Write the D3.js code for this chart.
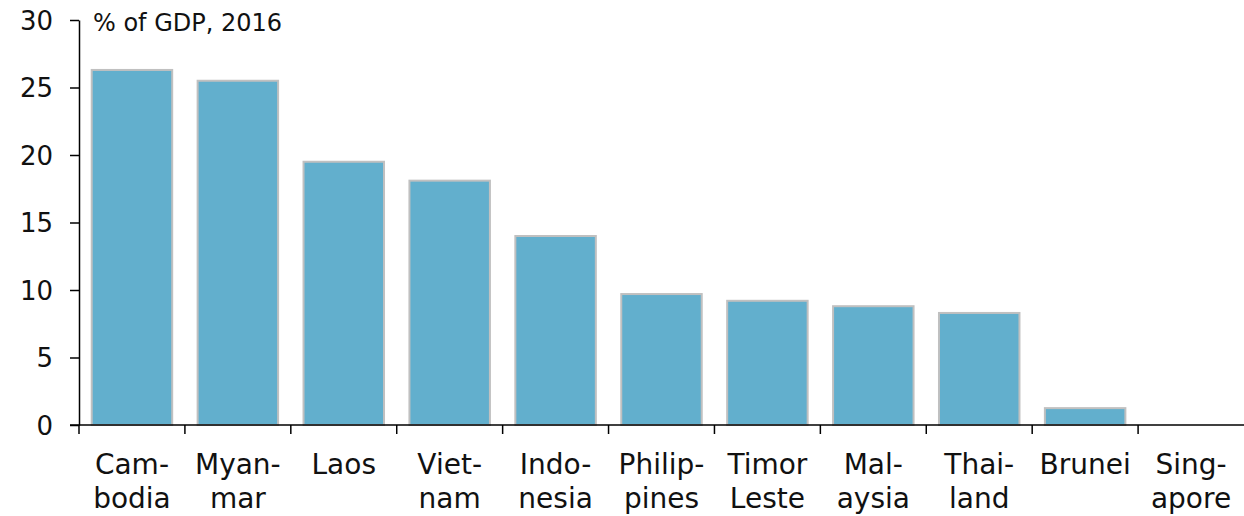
<!DOCTYPE html>
<html>
<head>
<meta charset="utf-8">
<style>
  body { margin: 0; background: #fff; font-family: "DejaVu Sans", sans-serif; }
  svg { display: block; }
  .axis path, .axis line { stroke: #000; stroke-width: 1.5; }
  .axis text { fill: #111; font-family: "DejaVu Sans", sans-serif; }
  .bar { fill: #62afcd; stroke: #c0c0c0; stroke-width: 2; }
</style>
</head>
<body>
<script src="https://d3js.org/d3.v7.min.js"></script>
<script>
// data
var countries = ["Cambodia", "Myanmar", "Laos", "Vietnam", "Indonesia", "Philippines",
                 "Timor Leste", "Malaysia", "Thailand", "Brunei", "Singapore"];
var labelLines = [["Cam-", "bodia"], ["Myan-", "mar"], ["Laos"], ["Viet-", "nam"], ["Indo-", "nesia"],
                  ["Philip-", "pines"], ["Timor", "Leste"], ["Mal-", "aysia"], ["Thai-", "land"],
                  ["Brunei"], ["Sing-", "apore"]];
var values = [26.3, 25.5, 19.5, 18.1, 14.0, 9.7, 9.2, 8.8, 8.3, 1.25, 0];
var yTicks = [0, 5, 10, 15, 20, 25, 30];
var unitLabel = "% of GDP, 2016";

var W = 1244, H = 516;
var margin = {top: 20, right: 0, bottom: 91, left: 79};
var width = W - margin.left - margin.right,
    height = H - margin.top - margin.bottom;

var svg = d3.select("body").append("svg")
    .attr("width", W)
    .attr("height", H);

var g = svg.append("g")
    .attr("transform", "translate(" + margin.left + "," + margin.top + ")");

var x = d3.scaleBand()
    .domain(countries)
    .range([0, width])
    .paddingInner(0.24)
    .paddingOuter(0.12);

var y = d3.scaleLinear()
    .domain([0, 30])
    .range([height, 0]);

// bars
g.selectAll("rect")
    .data(values)
    .enter().append("rect")
    .attr("class", "bar")
    .attr("x", function(d, i) { return x(countries[i]); })
    .attr("y", function(d) { return y(d); })
    .attr("width", x.bandwidth())
    .attr("height", function(d) { return height - y(d); })
    .style("display", function(d) { return d > 0 ? null : "none"; });

// y axis
var yAxis = g.append("g")
    .attr("class", "axis")
    .call(d3.axisLeft(y).tickValues(yTicks).tickSize(9).tickSizeOuter(0).tickPadding(17));
yAxis.selectAll("text").attr("dy", "0.36em").style("font-size", "26px");

// x axis: ticks at band boundaries
var step = x.step();
var bounds = countries.map(function(c, i) { return i * step; });
var xAxisG = g.append("g")
    .attr("class", "axis")
    .attr("transform", "translate(0," + height + ")");
xAxisG.append("line")
    .attr("x1", -9).attr("x2", width)
    .attr("y1", 0).attr("y2", 0);
xAxisG.selectAll(".tk")
    .data(bounds)
    .enter().append("line")
    .attr("class", "tk")
    .attr("x1", function(d) { return d; })
    .attr("x2", function(d) { return d; })
    .attr("y1", 0).attr("y2", 9);

var lbl = xAxisG.selectAll(".lbl")
    .data(countries)
    .enter().append("text")
    .attr("class", "lbl")
    .attr("text-anchor", "middle")
    .style("font-size", "28px")
    .attr("x", function(d) { return x(d) + x.bandwidth() / 2; })
    .attr("y", 49);
lbl.selectAll("tspan")
    .data(function(d, i) { return labelLines[i]; })
    .enter().append("tspan")
    .attr("x", function() { return d3.select(this.parentNode).attr("x"); })
    .attr("dy", function(d, i) { return i === 0 ? 0 : 34; })
    .text(function(d) { return d; });

// unit label
g.append("text")
    .attr("x", 14)
    .attr("y", 11)
    .attr("font-size", 24)
    .attr("fill", "#111")
    .text(unitLabel);
</script>
</body>
</html>
